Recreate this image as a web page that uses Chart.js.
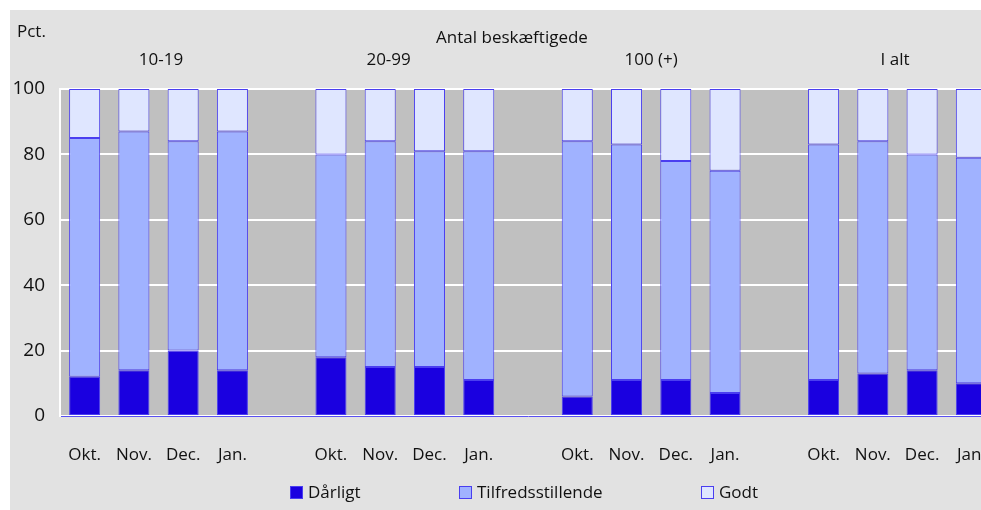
<!DOCTYPE html>
<html>
<head>
<meta charset="utf-8">
<script src="https://cdn.jsdelivr.net/npm/chart.js@4/dist/chart.umd.min.js"></script>
<style>
    html, body { margin: 0; padding: 0; background: #fff; overflow: hidden; }
    #wrap { position: absolute; left: 10px; top: 10px; width: 1000px; height: 500px; background: #e2e2e2; }
</style>
</head>
<body>
<div id="wrap"><canvas id="chart" width="1000" height="500"></canvas></div>
<script>
    "use strict";

    // Data (empty slots separate the groups)
    var months = ["Okt.", "Nov.", "Dec.", "Jan.", "",
                  "Okt.", "Nov.", "Dec.", "Jan.", "",
                  "Okt.", "Nov.", "Dec.", "Jan.", "",
                  "Okt.", "Nov.", "Dec.", "Jan."];
    var darligt = [12, 14, 20, 14, null, 18, 15, 15, 11, null, 6, 11, 11, 7, null, 11, 13, 14, 10];
    var tilfreds = [73, 73, 64, 73, null, 62, 69, 66, 70, null, 78, 72, 67, 68, null, 72, 71, 66, 69];
    var godt = [15, 13, 16, 13, null, 20, 16, 19, 19, null, 16, 17, 22, 25, null, 17, 16, 20, 21];
    var yTicks = [0, 20, 40, 60, 80, 100];
    var groupLabels = ["10-19", "20-99", "100 (+)", "I alt"];
    var groupAt = [1.55, 6.17, 11.5, 16.45];   // category index the label sits over

    var font = "'Open Sans', 'Noto Sans', sans-serif";
    var colors = {
        darligt: "#1a00e0",
        tilfreds: "#a0b2ff",
        godt: "#dfe6ff",
        edge: "#4a3ef0"
    };

    // Plot background + texts + legend
    var decor = {
        id: "decor",
        beforeDraw: function (chart) {
            var a = chart.chartArea, c = chart.ctx;
            c.save();
            c.fillStyle = "#c0c0c0";
            c.fillRect(a.left, a.top, a.right - a.left, a.bottom - a.top);
            c.restore();
        },
        afterDraw: function (chart) {
            var c = chart.ctx, x = chart.scales.x;
            c.save();
            c.fillStyle = "#111";
            c.font = "17px " + font;
            c.textBaseline = "middle";
            c.textAlign = "left";
            c.fillText("Pct.", 7, 22);
            c.textAlign = "center";
            c.fillText("Antal beskæftigede", 502, 28);
            groupLabels.forEach(function (g, i) {
                c.fillText(g, x.getPixelForValue(groupAt[i]), 50);
            });

            // legend
            var items = [
                { label: "Dårligt", color: colors.darligt, x: 280 },
                { label: "Tilfredsstillende", color: colors.tilfreds, x: 449 },
                { label: "Godt", color: colors.godt, x: 691 }
            ];
            c.textAlign = "left";
            items.forEach(function (it) {
                c.fillStyle = it.color;
                c.fillRect(it.x, 476, 13, 13);
                c.strokeStyle = colors.edge;
                c.lineWidth = 1;
                c.strokeRect(it.x + 0.5, 476.5, 12, 12);
                c.fillStyle = "#111";
                c.fillText(it.label, it.x + 18, 483);
            });
            c.restore();
        }
    };

    function bars(label, data, color) {
        return {
            label: label,
            data: data,
            backgroundColor: color,
            borderColor: colors.edge,
            borderWidth: 1,
            borderSkipped: false,
            barPercentage: 0.9,
            categoryPercentage: 0.7
        };
    }

    new Chart(document.getElementById("chart").getContext("2d"), {
        type: "bar",
        data: {
            labels: months,
            datasets: [
                bars("Dårligt", darligt, colors.darligt),
                bars("Tilfredsstillende", tilfreds, colors.tilfreds),
                bars("Godt", godt, colors.godt)
            ]
        },
        options: {
            responsive: false,
            animation: false,
            devicePixelRatio: 1,
            layout: { padding: { top: 79, right: 14, left: 0, bottom: 0 } },
            plugins: { legend: { display: false }, tooltip: { enabled: false } },
            scales: {
                x: {
                    stacked: true,
                    grid: { display: false },
                    border: { color: "#5a50f0", width: 1 },
                    ticks: { color: "#111", font: { family: font, size: 17 }, padding: 21, maxRotation: 0, autoSkip: false },
                    afterFit: function (s) { s.height = 94; }
                },
                y: {
                    stacked: true,
                    min: 0,
                    max: 100,
                    afterBuildTicks: function (s) {
                        s.ticks = yTicks.map(function (v) { return { value: v }; });
                    },
                    grid: { color: "#ffffff", lineWidth: 2, drawTicks: false },
                    border: { color: "#ffffff", width: 2 },
                    ticks: { color: "#111", font: { family: font, size: 19 }, padding: 15 },
                    afterFit: function (s) { s.width = 50; }
                }
            }
        },
        plugins: [decor]
    });
</script>
</body>
</html>
